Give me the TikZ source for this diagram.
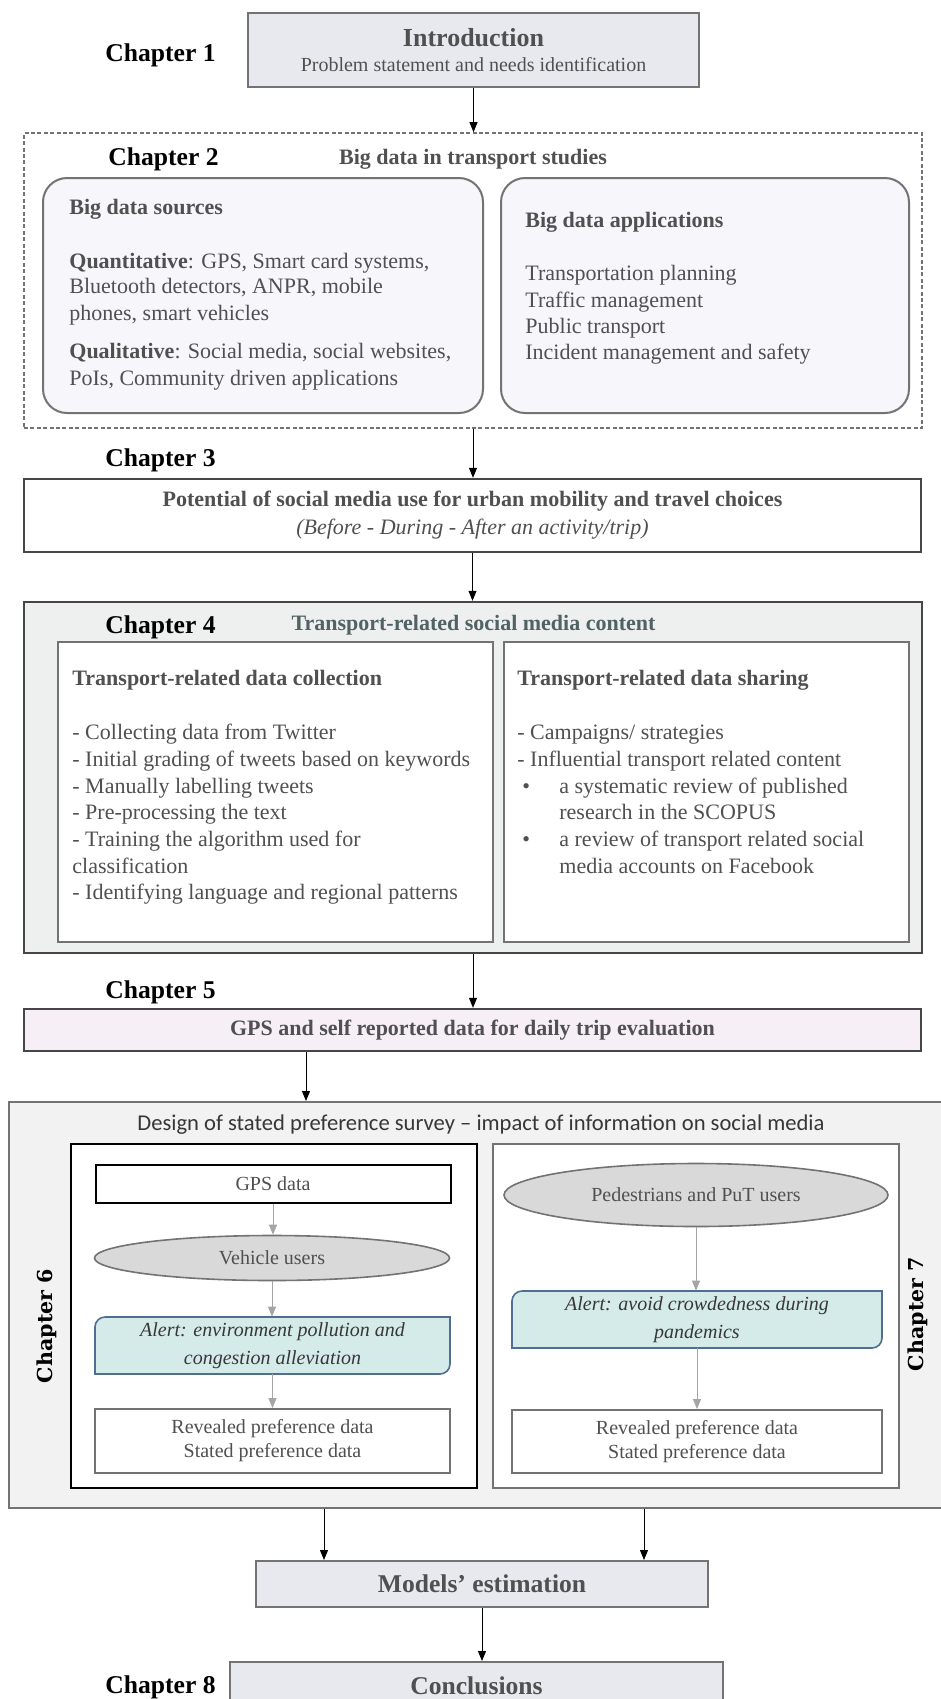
\documentclass[tikz,border=0pt]{standalone}
\usepackage{fontspec}
\setmainfont{Liberation Serif}
\newfontfamily\calfont{Carlito}
\newfontfamily\sidefont{DejaVu Serif}
\usetikzlibrary{arrows.meta,shapes.geometric}
\definecolor{linegray}{RGB}{115,115,115}
\definecolor{darkline}{RGB}{70,70,70}
\definecolor{textgray}{RGB}{80,80,80}
\definecolor{darktext}{RGB}{55,55,55}
\definecolor{introfill}{RGB}{231,233,239}
\definecolor{palelav}{RGB}{246,246,251}
\definecolor{ch4fill}{RGB}{237,240,239}
\definecolor{ch4ink}{RGB}{80,98,98}
\definecolor{ch5fill}{RGB}{246,240,246}
\definecolor{surveyfill}{RGB}{242,242,242}
\definecolor{ellfill}{RGB}{217,217,217}
\definecolor{alertfill}{RGB}{213,235,233}
\definecolor{alertdraw}{RGB}{80,110,145}
\definecolor{arrowgray}{RGB}{165,165,165}
\begin{document}
\begin{tikzpicture}[x=1pt,y=1pt,
chaplabel/.style={font=\bfseries\fontsize{12.8}{15}\selectfont,anchor=base west},
sidelabel/.style={font=\sidefont\bfseries\fontsize{10.3}{12}\selectfont,rotate=90},
textline/.style={font=\fontsize{11}{13}\selectfont,text=textgray,anchor=base west},
boxframe/.style={draw=linegray,line width=1pt},
innerbox/.style={boxframe,fill=white,minimum width=177.5pt,font=\fontsize{10}{12}\selectfont,text=textgray,align=center},
usergroup/.style={ellipse,draw=linegray,line width=0.8pt,fill=ellfill,font=\fontsize{10}{12}\selectfont,text=textgray},
alertline/.style={draw=alertdraw,fill=alertfill,line width=0.8pt},
alerttext/.style={font=\itshape\fontsize{10}{12}\selectfont,text=darktext,align=center},
flow/.style={-{Triangle[width=4pt,length=5pt]},line width=0.5pt},
subflow/.style={flow,draw=arrowgray}]
\tikzstyle{every node}+=[inner sep=0pt]
\useasboundingbox (0,0) rectangle (470.5,-849.5);
\node[chaplabel] (ch1) at (52.5,-30.8) {Chapter 1};
\node[boxframe,fill=introfill,minimum width=225.5pt,minimum height=37pt,align=center,text=textgray] (intro) at (236.75,-25) {{\bfseries\fontsize{13}{15}\selectfont Introduction}\\[0.5pt]{\fontsize{10}{12}\selectfont Problem statement and needs identification}};
\node[draw=linegray,line width=0.8pt,dash pattern=on 2pt off 1.2pt,minimum width=449pt,minimum height=147.5pt] (ch2box) at (236.5,-140.25) {};
\draw[flow] (intro.south) -- (intro.south |- ch2box.north);
\node[chaplabel] (ch2) at (54,-82.8) {Chapter 2};
\node[font=\bfseries\fontsize{11}{13}\selectfont,text=textgray,anchor=base] (ch2title) at (236.5,-82) {Big data in transport studies};
\node[boxframe,rounded corners=12pt,fill=palelav,minimum width=220pt,minimum height=117.5pt] (sources) at (131.5,-147.75) {};
\node[boxframe,rounded corners=12pt,fill=palelav,minimum width=204pt,minimum height=117.5pt] (apps) at (352.5,-147.75) {};
\node[textline] (src0) at (34.5,-107) {\textbf{Big data sources}};
\node[textline] (src1) at (34.5,-134) {\textbf{Quantitative}: GPS, Smart card systems,};
\node[textline] (src2) at (34.5,-146.5) {Bluetooth detectors, ANPR, mobile};
\node[textline] (src3) at (34.5,-160) {phones, smart vehicles};
\node[textline] (src4) at (34.5,-179) {\textbf{Qualitative}: Social media, social websites,};
\node[textline] (src5) at (34.5,-192.5) {PoIs, Community driven applications};
\node[textline] (app0) at (262.5,-113.5) {\textbf{Big data applications}};
\node[textline] (app1) at (262.5,-140) {Transportation planning};
\node[textline] (app2) at (262.5,-153.5) {Traffic management};
\node[textline] (app3) at (262.5,-166.5) {Public transport};
\node[textline] (app4) at (262.5,-179.5) {Incident management and safety};
\node[chaplabel] (ch3) at (52.5,-233.3) {Chapter 3};
\node[draw=darkline,line width=1.2pt,fill=white,minimum width=448.5pt,minimum height=36.5pt,align=center,text=textgray] (ch3box) at (236.25,-257.75) {{\bfseries\fontsize{11}{13}\selectfont Potential of social media use for urban mobility and travel choices}\\[2pt]{\itshape\fontsize{11}{13}\selectfont (Before - During - After an activity/trip)}};
\draw[flow] (ch2box.south) -- (ch2box.south |- ch3box.north);
\node[draw=darkline,line width=1.2pt,fill=ch4fill,minimum width=449pt,minimum height=175.5pt] (ch4box) at (236.5,-388.75) {};
\draw[flow] (ch3box.south) -- (ch3box.south |- ch4box.north);
\node[chaplabel] (ch4) at (52.5,-316.8) {Chapter 4};
\node[font=\bfseries\fontsize{11}{13}\selectfont,text=ch4ink,anchor=base] (ch4title) at (236.75,-315.2) {Transport-related social media content};
\node[boxframe,fill=white,minimum width=217.5pt,minimum height=150pt] (collect) at (137.75,-396) {};
\node[boxframe,fill=white,minimum width=202.5pt,minimum height=150pt] (share) at (353.25,-396) {};
\node[textline] (col0) at (36,-342.5) {\textbf{Transport-related data collection}};
\node[textline] (col1) at (36,-369.5) {- Collecting data from Twitter};
\node[textline] (col2) at (36,-383) {- Initial grading of tweets based on keywords};
\node[textline] (col3) at (36,-396.5) {- Manually labelling tweets};
\node[textline] (col4) at (36,-409.5) {- Pre-processing the text};
\node[textline] (col5) at (36,-423) {- Training the algorithm used for};
\node[textline] (col6) at (36,-436.5) {classification};
\node[textline] (col7) at (36,-449.5) {- Identifying language and regional patterns};
\node[textline] (sha0) at (258.5,-342.5) {\textbf{Transport-related data sharing}};
\node[textline] (sha1) at (258.5,-369.5) {- Campaigns/ strategies};
\node[textline] (sha2) at (258.5,-383) {- Influential transport related content};
\node[textline] (dot1) at (261,-396.5) {\textbullet};
\node[textline] (sha3) at (279.5,-396.5) {a systematic review of published};
\node[textline] (sha4) at (279.5,-409.5) {research in the SCOPUS};
\node[textline] (dot2) at (261,-423) {\textbullet};
\node[textline] (sha5) at (279.5,-423) {a review of transport related social};
\node[textline] (sha6) at (279.5,-436.5) {media accounts on Facebook};
\node[chaplabel] (ch5) at (52.5,-499.3) {Chapter 5};
\node[draw=darkline,line width=1.2pt,fill=ch5fill,minimum width=448.5pt,minimum height=21pt,font=\bfseries\fontsize{11}{13}\selectfont,text=textgray] (ch5box) at (236.25,-515) {GPS and self reported data for daily trip evaluation};
\draw[flow] (ch4box.south) -- (ch4box.south |- ch5box.north);
\node[boxframe,fill=surveyfill,minimum width=468pt,minimum height=203pt] (survey) at (238.5,-652.5) {};
\coordinate (fork5) at ([xshift=-83.25pt]ch5box.south);
\draw[flow] (fork5) -- (fork5 |- survey.north);
\node[font=\calfont\fontsize{11.3}{13}\selectfont,text=darktext,anchor=base] (surveytitle) at (240.5,-565) {Design of stated preference survey – impact of information on social media};
\node[draw=black,line width=1.2pt,fill=white,minimum width=203pt,minimum height=172pt] (ch6box) at (137,-658) {};
\node[boxframe,fill=white,minimum width=203pt,minimum height=172pt] (ch7box) at (348,-658) {};
\node[sidelabel] (ch6) at (23.5,-663) {Chapter 6};
\node[sidelabel] (ch7) at (459,-657) {Chapter 7};
\node[innerbox,draw=black,minimum height=19pt] (gps) at (136.5,-592) {GPS data};
\node[usergroup,minimum width=177.5pt,minimum height=22.5pt] (vehicle) at (136,-629) {Vehicle users};
\draw[alertline] (47.5,-687) -- (47.5,-663.5) arc[start angle=180,end angle=90,radius=5pt] -- (225,-658.5) -- (225,-682) arc[start angle=0,end angle=-90,radius=5pt] -- cycle;
\node[alerttext,minimum width=177.5pt,minimum height=28.5pt] (alert6) at (136.25,-672.75) {Alert: environment pollution and\\[2pt]congestion alleviation};
\node[innerbox,minimum height=32pt] (rp6) at (136.25,-720.5) {Revealed preference data\\Stated preference data};
\draw[subflow] (gps.south) -- (gps.south |- vehicle.north);
\draw[subflow] (vehicle.south) -- (vehicle.south |- alert6.north);
\draw[subflow] (alert6.south) -- (alert6.south |- rp6.north);
\node[usergroup,minimum width=192pt,minimum height=31.5pt] (pedestrians) at (348,-597.5) {Pedestrians and PuT users};
\draw[alertline] (256,-674) -- (256,-650.5) arc[start angle=180,end angle=90,radius=5pt] -- (441,-645.5) -- (441,-669) arc[start angle=0,end angle=-90,radius=5pt] -- cycle;
\node[alerttext,minimum width=185pt,minimum height=28.5pt] (alert7) at (348.5,-659.75) {Alert: avoid crowdedness during\\[2pt]pandemics};
\node[innerbox,minimum width=185pt,minimum height=31.5pt] (rp7) at (348.5,-720.75) {Revealed preference data\\Stated preference data};
\draw[subflow] (pedestrians.south) -- (pedestrians.south |- alert7.north);
\draw[subflow] (alert7.south) -- (alert7.south |- rp7.north);
\node[boxframe,fill=introfill,minimum width=226pt,minimum height=23pt,font=\bfseries\fontsize{12.8}{15}\selectfont,text=textgray] (models) at (241,-792) {Models' estimation};
\coordinate (in6) at ([xshift=-79pt]models.north);
\coordinate (in7) at ([xshift=81pt]models.north);
\draw[flow] (in6 |- survey.south) -- (in6);
\draw[flow] (in7 |- survey.south) -- (in7);
\node[boxframe,fill=introfill,minimum width=246.5pt,minimum height=24pt,font=\bfseries\fontsize{12.8}{15}\selectfont,text=textgray] (concl) at (238.25,-843) {Conclusions};
\draw[flow] (models.south) -- (models.south |- concl.north);
\node[chaplabel] (ch8) at (52.5,-846.5) {Chapter 8};
\end{tikzpicture}
\end{document}
